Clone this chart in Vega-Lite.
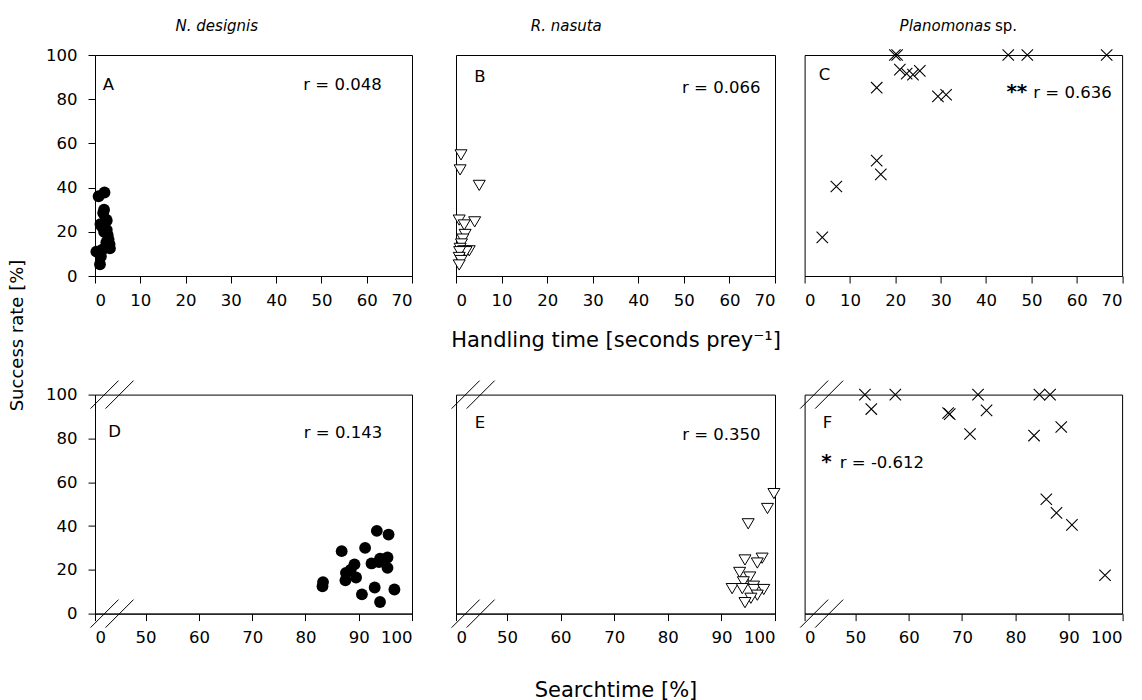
{
  "$schema": "https://vega.github.io/schema/vega-lite/v6.json",
  "padding": {"left": 7, "top": 18, "right": 0, "bottom": 0},
  "background": "white",
  "config": {
    "font": "DejaVu Sans",
    "view": {"stroke": "black", "strokeWidth": 1},
    "axis": {"domainColor": "black", "tickColor": "black", "labelColor": "black", "titleColor": "black", "labelFontSize": 16.5, "tickSize": 7, "grid": false, "titleFontWeight": "normal", "titleFontSize": 21, "labelFont": "DejaVu Sans", "titleFont": "DejaVu Sans", "domainWidth": 1, "tickWidth": 1},
    "axisX": {"labelPadding": 9},
    "axisY": {"labelPadding": 11},
    "text": {"font": "DejaVu Sans", "fontSize": 16.5, "color": "black"}
  },
  "datasets": {
    "nd": [
      {"success": 37.8, "search": 93.4, "handling": 2.1},
      {"success": 36.1, "search": 95.6, "handling": 0.8},
      {"success": 28.5, "search": 86.8, "handling": 1.8},
      {"success": 30.0, "search": 91.2, "handling": 2.0},
      {"success": 22.5, "search": 89.2, "handling": 1.5},
      {"success": 22.9, "search": 92.4, "handling": 2.0},
      {"success": 25.1, "search": 94.0, "handling": 2.6},
      {"success": 25.6, "search": 95.4, "handling": 2.4},
      {"success": 20.9, "search": 95.4, "handling": 2.6},
      {"success": 18.6, "search": 87.6, "handling": 2.8},
      {"success": 16.5, "search": 89.5, "handling": 3.0},
      {"success": 15.2, "search": 87.5, "handling": 2.5},
      {"success": 14.4, "search": 83.3, "handling": 3.2},
      {"success": 12.5, "search": 83.2, "handling": 3.3},
      {"success": 8.8, "search": 90.6, "handling": 1.3},
      {"success": 11.9, "search": 93.0, "handling": 1.6},
      {"success": 11.0, "search": 96.7, "handling": 0.3},
      {"success": 5.3, "search": 94.0, "handling": 1.1},
      {"success": 20.0, "search": 88.5, "handling": 2.0},
      {"success": 23.5, "search": 93.8, "handling": 1.2}
    ],
    "rn": [
      {"success": 54.8, "handling": 1.1, "search": 99.8},
      {"success": 48.0, "handling": 0.9, "search": 98.6},
      {"success": 41.0, "handling": 5.1, "search": 95.0},
      {"success": 25.3, "handling": 0.7, "search": 97.6},
      {"success": 24.5, "handling": 4.1, "search": 94.4},
      {"success": 23.1, "handling": 1.8, "search": 96.7},
      {"success": 18.8, "handling": 2.0, "search": 93.4},
      {"success": 16.7, "handling": 1.5, "search": 95.3},
      {"success": 14.5, "handling": 1.2, "search": 94.1},
      {"success": 12.5, "handling": 0.9, "search": 96.0},
      {"success": 11.4, "handling": 2.9, "search": 92.0},
      {"success": 11.4, "handling": 1.7, "search": 93.9},
      {"success": 11.0, "handling": 2.2, "search": 96.1},
      {"success": 11.0, "handling": 0.8, "search": 97.9},
      {"success": 8.4, "handling": 0.7, "search": 96.7},
      {"success": 7.0, "handling": 1.1, "search": 95.5},
      {"success": 5.0, "handling": 0.7, "search": 94.4}
    ],
    "pl": [
      {"success": 17.5, "handling": 3.9, "search": 96.8},
      {"success": 40.5, "handling": 7.0, "search": 90.6},
      {"success": 52.2, "handling": 15.9, "search": 85.8},
      {"success": 46.0, "handling": 16.8, "search": 87.7},
      {"success": 85.2, "handling": 15.9, "search": 88.6},
      {"success": 100, "handling": 19.9, "search": 51.8},
      {"success": 100, "handling": 20.4, "search": 57.5},
      {"success": 100, "handling": 44.9, "search": 73.0},
      {"success": 100, "handling": 49.1, "search": 84.5},
      {"success": 100, "handling": 66.6, "search": 86.5},
      {"success": 93.4, "handling": 21.0, "search": 53.0},
      {"success": 91.6, "handling": 22.5, "search": 67.4},
      {"success": 91.1, "handling": 23.9, "search": 67.7},
      {"success": 92.8, "handling": 25.4, "search": 74.6},
      {"success": 82.0, "handling": 31.2, "search": 71.5},
      {"success": 81.3, "handling": 29.4, "search": 83.5}
    ]
  },
  "spacing": 36,
  "hconcat": [
    {
      "spacing": 118.6,
      "bounds": "flush",
      "vconcat": [
        {
          "width": 317, "height": 221,
          "layer": [
            {
              "data": {"name": "nd"},
              "mark": {"type": "circle", "size": 140, "color": "black", "opacity": 1},
              "encoding": {
                "x": {"field": "handling", "type": "quantitative", "scale": {"domain": [0, 70], "nice": false, "zero": false}, "axis": {"values": [0, 10, 20, 30, 40, 50, 60, 70], "title": null}},
                "y": {"field": "success", "type": "quantitative", "scale": {"domain": [0, 100], "nice": false}, "axis": {"values": [0, 20, 40, 60, 80, 100], "title": "Success rate [%]", "titleX": -78, "titleY": 280, "titleAngle": -90, "titleBaseline": "middle", "titleAlign": "center", "titleFontSize": 18}}
              }
            },
            {"data": {"values": [{}]}, "mark": {"type": "text", "text": "N. designis", "fontStyle": "italic", "fontSize": 15, "align": "center", "baseline": "middle"}, "encoding": {"x": {"datum": 26.9}, "y": {"datum": 113.1}}},
            {"data": {"values": [{}]}, "mark": {"type": "text", "text": "A", "align": "left", "baseline": "alphabetic"}, "encoding": {"x": {"datum": 1.7}, "y": {"datum": 84.2}}},
            {"data": {"values": [{}]}, "mark": {"type": "text", "text": "r = 0.048", "align": "right", "baseline": "alphabetic"}, "encoding": {"x": {"datum": 63.3}, "y": {"datum": 84.0}}}
          ]
        },
        {
          "width": 317, "height": 219,
          "layer": [
            {
              "data": {"name": "nd"},
              "mark": {"type": "circle", "size": 140, "color": "black", "opacity": 1},
              "encoding": {
                "x": {"field": "search", "type": "quantitative", "scale": {"domain": [40.5, 100], "nice": false, "zero": false}, "axis": {"values": [40.5, 50, 60, 70, 80, 90, 100], "labelExpr": "datum.value < 45 ? '0' : datum.label", "title": null}},
                "y": {"field": "success", "type": "quantitative", "scale": {"domain": [0, 100], "nice": false}, "axis": {"values": [0, 20, 40, 60, 80, 100], "title": null}}
              }
            },
            {"data": {"values": [{}]}, "mark": {"type": "point", "shape": "M-1,0.651L0.302,-0.651M-0.302,0.651L1,-0.651", "size": 1849, "stroke": "black", "strokeWidth": 1, "filled": false, "opacity": 1}, "encoding": {"x": {"datum": 43.7}, "y": {"datum": 0}}},
            {"data": {"values": [{}]}, "mark": {"type": "point", "shape": "M-1,0.651L0.302,-0.651M-0.302,0.651L1,-0.651", "size": 1849, "stroke": "black", "strokeWidth": 1, "filled": false, "opacity": 1}, "encoding": {"x": {"datum": 43.7}, "y": {"datum": 100}}},
            {"data": {"values": [{}]}, "mark": {"type": "text", "text": "D", "align": "left", "baseline": "alphabetic"}, "encoding": {"x": {"datum": 43.0}, "y": {"datum": 80.8}}},
            {"data": {"values": [{}]}, "mark": {"type": "text", "text": "r = 0.143", "align": "right", "baseline": "alphabetic"}, "encoding": {"x": {"datum": 94.4}, "y": {"datum": 80.0}}}
          ]
        }
      ]
    },
    {
      "spacing": 14.6,
      "hconcat": [
        {
          "spacing": 118.6,
          "bounds": "flush",
          "vconcat": [
            {
              "width": 319, "height": 221,
              "layer": [
                {
                  "data": {"name": "rn"},
                  "mark": {"type": "point", "shape": "M-1,-0.85L1,-0.85L0,0.85Z", "size": 144, "stroke": "black", "strokeWidth": 1, "fill": "white", "filled": true, "opacity": 1, "fillOpacity": 1, "strokeOpacity": 1},
                  "encoding": {
                    "x": {"field": "handling", "type": "quantitative", "scale": {"domain": [0, 70], "nice": false, "zero": false}, "axis": {"values": [0, 10, 20, 30, 40, 50, 60, 70], "title": "Handling time [seconds prey⁻¹]", "titleY": 64, "titleBaseline": "middle"}},
                    "y": {"field": "success", "type": "quantitative", "scale": {"domain": [0, 100], "nice": false}, "axis": null}
                  }
                },
                {"data": {"values": [{}]}, "mark": {"type": "text", "text": "R. nasuta", "fontStyle": "italic", "fontSize": 15, "align": "center", "baseline": "middle"}, "encoding": {"x": {"datum": 24.2}, "y": {"datum": 113.1}}},
                {"data": {"values": [{}]}, "mark": {"type": "text", "text": "B", "align": "left", "baseline": "alphabetic"}, "encoding": {"x": {"datum": 4.0}, "y": {"datum": 87.9}}},
                {"data": {"values": [{}]}, "mark": {"type": "text", "text": "r = 0.066", "align": "right", "baseline": "alphabetic"}, "encoding": {"x": {"datum": 66.8}, "y": {"datum": 82.7}}}
              ]
            },
            {
              "width": 319, "height": 219,
              "layer": [
                {
                  "data": {"name": "rn"},
                  "mark": {"type": "point", "shape": "M-1,-0.85L1,-0.85L0,0.85Z", "size": 144, "stroke": "black", "strokeWidth": 1, "fill": "white", "filled": true, "opacity": 1, "fillOpacity": 1, "strokeOpacity": 1},
                  "encoding": {
                    "x": {"field": "search", "type": "quantitative", "scale": {"domain": [40.5, 100], "nice": false, "zero": false}, "axis": {"values": [40.5, 50, 60, 70, 80, 90, 100], "labelExpr": "datum.value < 45 ? '0' : datum.label", "title": "Searchtime [%]", "titleY": 77, "titleBaseline": "middle"}},
                    "y": {"field": "success", "type": "quantitative", "scale": {"domain": [0, 100], "nice": false}, "axis": null}
                  }
                },
                {"data": {"values": [{}]}, "mark": {"type": "point", "shape": "M-1,0.651L0.302,-0.651M-0.302,0.651L1,-0.651", "size": 1849, "stroke": "black", "strokeWidth": 1, "filled": false, "opacity": 1}, "encoding": {"x": {"datum": 43.7}, "y": {"datum": 0}}},
                {"data": {"values": [{}]}, "mark": {"type": "point", "shape": "M-1,0.651L0.302,-0.651M-0.302,0.651L1,-0.651", "size": 1849, "stroke": "black", "strokeWidth": 1, "filled": false, "opacity": 1}, "encoding": {"x": {"datum": 43.7}, "y": {"datum": 100}}},
                {"data": {"values": [{}]}, "mark": {"type": "text", "text": "E", "align": "left", "baseline": "alphabetic"}, "encoding": {"x": {"datum": 44.0}, "y": {"datum": 84.6}}},
                {"data": {"values": [{}]}, "mark": {"type": "text", "text": "r = 0.350", "align": "right", "baseline": "alphabetic"}, "encoding": {"x": {"datum": 97.3}, "y": {"datum": 79.2}}}
              ]
            }
          ]
        },
        {
          "spacing": 118.6,
          "bounds": "flush",
          "vconcat": [
            {
              "width": 317.5, "height": 221,
              "layer": [
                {
                  "data": {"name": "pl"},
                  "mark": {"type": "point", "shape": "M-1,-1L1,1M-1,1L1,-1", "size": 130, "stroke": "black", "strokeWidth": 1.1, "filled": false, "opacity": 1},
                  "encoding": {
                    "x": {"field": "handling", "type": "quantitative", "scale": {"domain": [0, 70], "nice": false, "zero": false}, "axis": {"values": [0, 10, 20, 30, 40, 50, 60, 70], "title": null}},
                    "y": {"field": "success", "type": "quantitative", "scale": {"domain": [0, 100], "nice": false}, "axis": null}
                  }
                },
                {"data": {"values": [{}]}, "mark": {"type": "text", "text": "Planomonas", "fontStyle": "italic", "fontSize": 15, "align": "right", "baseline": "middle"}, "encoding": {"x": {"datum": 41.1}, "y": {"datum": 113.1}}},
                {"data": {"values": [{}]}, "mark": {"type": "text", "text": "sp.", "fontSize": 15, "align": "left", "baseline": "middle", "dx": 4}, "encoding": {"x": {"datum": 41.1}, "y": {"datum": 113.1}}},
                {"data": {"values": [{}]}, "mark": {"type": "text", "text": "C", "align": "left", "baseline": "alphabetic"}, "encoding": {"x": {"datum": 3.1}, "y": {"datum": 88.7}}},
                {"data": {"values": [{}]}, "mark": {"type": "text", "text": "r = 0.636", "align": "right", "baseline": "alphabetic"}, "encoding": {"x": {"datum": 67.7}, "y": {"datum": 80.4}}},
                {"data": {"values": [{}]}, "mark": {"type": "text", "text": "**", "align": "right", "baseline": "alphabetic", "fontWeight": "bold", "fontSize": 20}, "encoding": {"x": {"datum": 49.1}, "y": {"datum": 80.4}}}
              ]
            },
            {
              "width": 317.5, "height": 219,
              "layer": [
                {
                  "data": {"name": "pl"},
                  "mark": {"type": "point", "shape": "M-1,-1L1,1M-1,1L1,-1", "size": 130, "stroke": "black", "strokeWidth": 1.1, "filled": false, "opacity": 1},
                  "encoding": {
                    "x": {"field": "search", "type": "quantitative", "scale": {"domain": [40.5, 100], "nice": false, "zero": false}, "axis": {"values": [40.5, 50, 60, 70, 80, 90, 100], "labelExpr": "datum.value < 45 ? '0' : datum.label", "title": null}},
                    "y": {"field": "success", "type": "quantitative", "scale": {"domain": [0, 100], "nice": false}, "axis": null}
                  }
                },
                {"data": {"values": [{}]}, "mark": {"type": "point", "shape": "M-1,0.651L0.302,-0.651M-0.302,0.651L1,-0.651", "size": 1849, "stroke": "black", "strokeWidth": 1, "filled": false, "opacity": 1}, "encoding": {"x": {"datum": 43.7}, "y": {"datum": 0}}},
                {"data": {"values": [{}]}, "mark": {"type": "point", "shape": "M-1,0.651L0.302,-0.651M-0.302,0.651L1,-0.651", "size": 1849, "stroke": "black", "strokeWidth": 1, "filled": false, "opacity": 1}, "encoding": {"x": {"datum": 43.7}, "y": {"datum": 100}}},
                {"data": {"values": [{}]}, "mark": {"type": "text", "text": "F", "align": "left", "baseline": "alphabetic"}, "encoding": {"x": {"datum": 43.9}, "y": {"datum": 84.6}}},
                {"data": {"values": [{}]}, "mark": {"type": "text", "text": "*", "align": "left", "baseline": "alphabetic", "fontWeight": "bold", "fontSize": 20}, "encoding": {"x": {"datum": 43.6}, "y": {"datum": 66.3}}},
                {"data": {"values": [{}]}, "mark": {"type": "text", "text": "r = -0.612", "align": "left", "baseline": "alphabetic"}, "encoding": {"x": {"datum": 47.1}, "y": {"datum": 66.3}}}
              ]
            }
          ]
        }
      ]
    }
  ]
}
